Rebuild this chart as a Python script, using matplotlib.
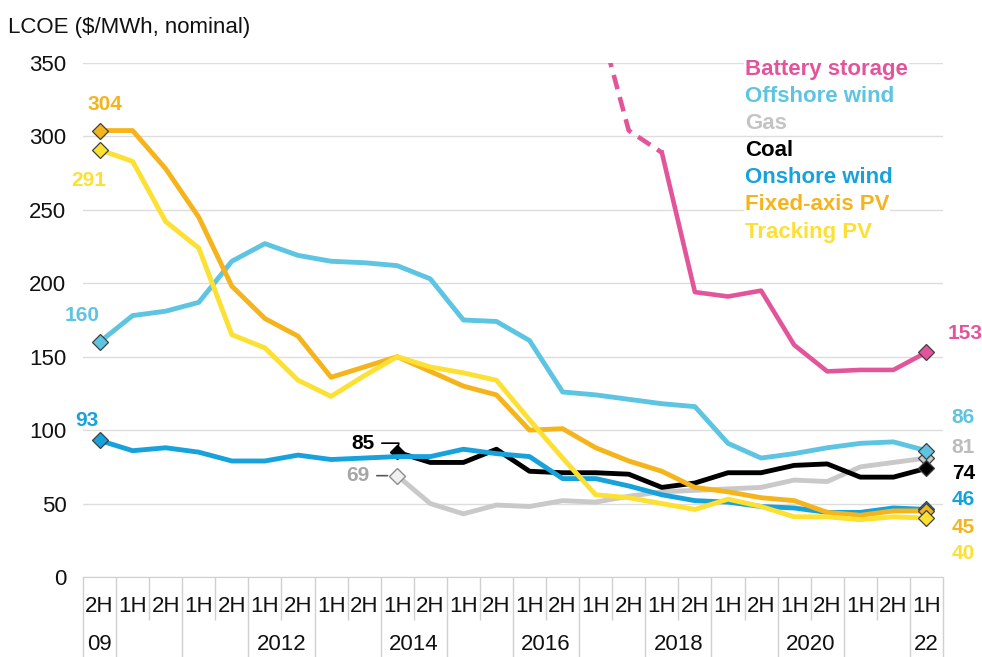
import numpy as np
import matplotlib
matplotlib.use("Agg")
import matplotlib.pyplot as plt

plt.rcParams["font.family"] = ["Liberation Sans", "DejaVu Sans"]

# categories: half years 2H09 .. 1H22
halves = ["2H"] + ["1H", "2H"] * 12 + ["1H"]
years = [2009] + [y for y in range(2010, 2022) for _ in (0, 1)] + [2022]
year_labels = {2009: "09", 2012: "2012", 2014: "2014", 2016: "2016",
               2018: "2018", 2020: "2020", 2022: "22"}

nan = np.nan
battery = [nan] * 15 + [387, 304, 289, 194, 191, 195, 158, 140, 141, 141, 153]
offshore = [160, 178, 181, 187, 215, 227, 219, 215, 214, 212, 203, 175, 174,
            161, 126, 124, 121, 118, 116, 91, 81, 84, 88, 91, 92, 86]
gas = [nan] * 9 + [69, 50, 43, 49, 48, 52, 51, 55, 58, 59, 60, 61, 66, 65,
                   75, 78, 81]
coal = [nan] * 9 + [85, 78, 78, 87, 72, 71, 71, 70, 61, 64, 71, 71, 76, 77,
                    68, 68, 74]
onshore = [93, 86, 88, 85, 79, 79, 83, 80, 81, 82, 82, 87, 84, 82, 67, 67,
           62, 56, 52, 51, 48, 47, 44, 44, 47, 46]
fixed_pv = [304, 304, 278, 245, 198, 176, 164, 136, 143, 150, 140, 130, 124,
            100, 101, 88, 79, 72, 61, 58, 54, 52, 44, 42, 45, 45]
tracking_pv = [291, 283, 242, 224, 165, 156, 134, 123, 137, 150, 143, 139,
               134, 107, 81, 56, 54, 50, 46, 53, 48, 41, 41, 39, 41, 40]

names = ["Battery storage", "Offshore wind", "Gas", "Coal", "Onshore wind",
         "Fixed-axis PV", "Tracking PV"]
series = [battery, offshore, gas, coal, onshore, fixed_pv, tracking_pv]
colors = ["#E3559B", "#5DC4E1", "#C9C9C9", "#000000", "#18A2DC",
          "#F6B41C", "#FCE032"]
zorders = [9, 4, 3, 5, 6, 7, 8]

# label offsets (pixels) for first / last value labels
first_off = {"Offshore wind": (-17, 27), "Gas": (-39, 0), "Coal": (-34, 9),
             "Onshore wind": (-13, 20), "Fixed-axis PV": (5, 26),
             "Tracking PV": (-11, -31)}
last_off = {"Battery storage": (39, 19), "Offshore wind": (37, 33),
            "Gas": (37, 11), "Coal": (37, -5), "Onshore wind": (37, 10),
            "Fixed-axis PV": (37, -17), "Tracking PV": (37, -35)}

W, H = 982, 657
fig = plt.figure(figsize=(W / 100, H / 100), dpi=100)
ax_l, ax_r, ax_b, ax_t = 83, 943, 577, 63
ax = fig.add_axes([ax_l / W, 1 - ax_b / H, (ax_r - ax_l) / W, (ax_b - ax_t) / H])

x = np.arange(len(halves))
for name, vals, col, z in zip(names, series, colors, zorders):
    v = np.array(vals, dtype=float)
    if name == "Battery storage":
        ax.plot(x[15:18], v[15:18], color=col, lw=3.3, ls=(0, (3.2, 1.8)),
                zorder=z)
        ax.plot(x[17:], v[17:], color=col, lw=3.3, zorder=z,
                solid_joinstyle="round")
    else:
        ax.plot(x, v, color=col, lw=3.5, zorder=z, solid_joinstyle="round")

    valid = np.where(~np.isnan(v))[0]
    i0, i1 = valid[0], valid[-1]
    ec = "#404040"
    ax.plot(x[i1], v[i1], marker="D", ms=8, mfc=col, mec=ec, mew=0.9,
            zorder=z + 10)
    ax.annotate(f"{v[i1]:.0f}", (x[i1], v[i1]), xytext=last_off[name],
                textcoords="offset pixels", ha="center", va="center",
                color=col if name != "Gas" else "#BDBDBD",
                fontsize=15, fontweight="bold", zorder=30)
    if name in first_off:
        if name == "Gas":
            ax.plot(x[i0], v[i0], marker="D", ms=8, mfc="#F0F0F0",
                    mec="#8C8C8C", mew=1, zorder=z + 10)
        elif name == "Coal":
            # sits under the onshore wind line
            ax.plot(x[i0], v[i0], marker="D", ms=7, mfc="#000000",
                    mec="#000000", zorder=z + 0.5)
        else:
            ax.plot(x[i0], v[i0], marker="D", ms=8, mfc=col, mec=ec,
                    mew=0.9, zorder=z + 10)
        tcol = {"Gas": "#A6A6A6", "Coal": "#000000"}.get(name, col)
        arrow = None
        if name == "Gas":
            arrow = dict(arrowstyle="-", color="#595959", lw=1.2,
                         shrinkA=3, shrinkB=7)
        elif name == "Coal":
            arrow = dict(arrowstyle="-", color="#000000", lw=1.2,
                         shrinkA=3, shrinkB=4,
                         connectionstyle="angle,angleA=0,angleB=80,rad=0")
        ax.annotate(f"{v[i0]:.0f}", (x[i0], v[i0]), xytext=first_off[name],
                    textcoords="offset pixels", ha="center", va="center",
                    color=tcol, fontsize=15, fontweight="bold", zorder=30,
                    arrowprops=arrow)

ax.set_xlim(-0.5, len(halves) - 0.5)
ax.set_ylim(0, 350)
ax.set_yticks(np.arange(0, 351, 50))
ax.yaxis.grid(True, color="#DDDDDD", lw=1)
ax.set_axisbelow(True)
for s in ["top", "right", "left"]:
    ax.spines[s].set_visible(False)
ax.spines["bottom"].set_color("#D0D0D0")
ax.tick_params(axis="y", length=0, pad=12, labelsize=16, colors="#111111")
ax.set_xticks([])

# category axis: half-year labels and year groups
axh = ax_b - ax_t
row1, row2 = -29 / axh, -68 / axh
short, full = -43 / axh, -80 / axh
xt = ax.get_xaxis_transform()
for i, h in enumerate(halves):
    ax.text(i, row1, h, transform=xt, ha="center", va="center", fontsize=16,
            color="#111111")
bounds = np.arange(len(halves) + 1) - 0.5
year_starts = [0] + [i for i in range(1, len(years)) if years[i] != years[i - 1]]
year_bounds = [b for b in bounds if int(b + 0.5) in year_starts] + [bounds[-1]]
ax.vlines([b for b in bounds if b not in year_bounds], short, 0, transform=xt,
          colors="#D0D0D0", lw=1, clip_on=False)
ax.vlines(year_bounds, full, 0, transform=xt, colors="#D0D0D0", lw=1,
          clip_on=False)
for yr, lab in year_labels.items():
    idx = [i for i, y in enumerate(years) if y == yr]
    ax.text(np.mean(idx), row2, lab, transform=xt, ha="center", va="center",
            fontsize=16, color="#111111")

# legend as coloured text
legend_cols = ["#E3559B", "#5DC4E1", "#C4C4C4", "#000000", "#18A2DC",
               "#F6B41C", "#FCE032"]
for k, (name, col) in enumerate(zip(names, legend_cols)):
    ax.text((745 - ax_l) / (ax_r - ax_l), (ax_b - 69 - 27.2 * k) / axh, name,
            transform=ax.transAxes, ha="left", va="center", fontsize=16,
            fontweight="bold", color=col, zorder=40,
            bbox=dict(fc="white", ec="none", pad=0.5))

fig.text(8 / W, 1 - 27 / H, "LCOE ($/MWh, nominal)", ha="left", va="center",
         fontsize=16, color="#111111")

fig.savefig("out.png", dpi=100)
